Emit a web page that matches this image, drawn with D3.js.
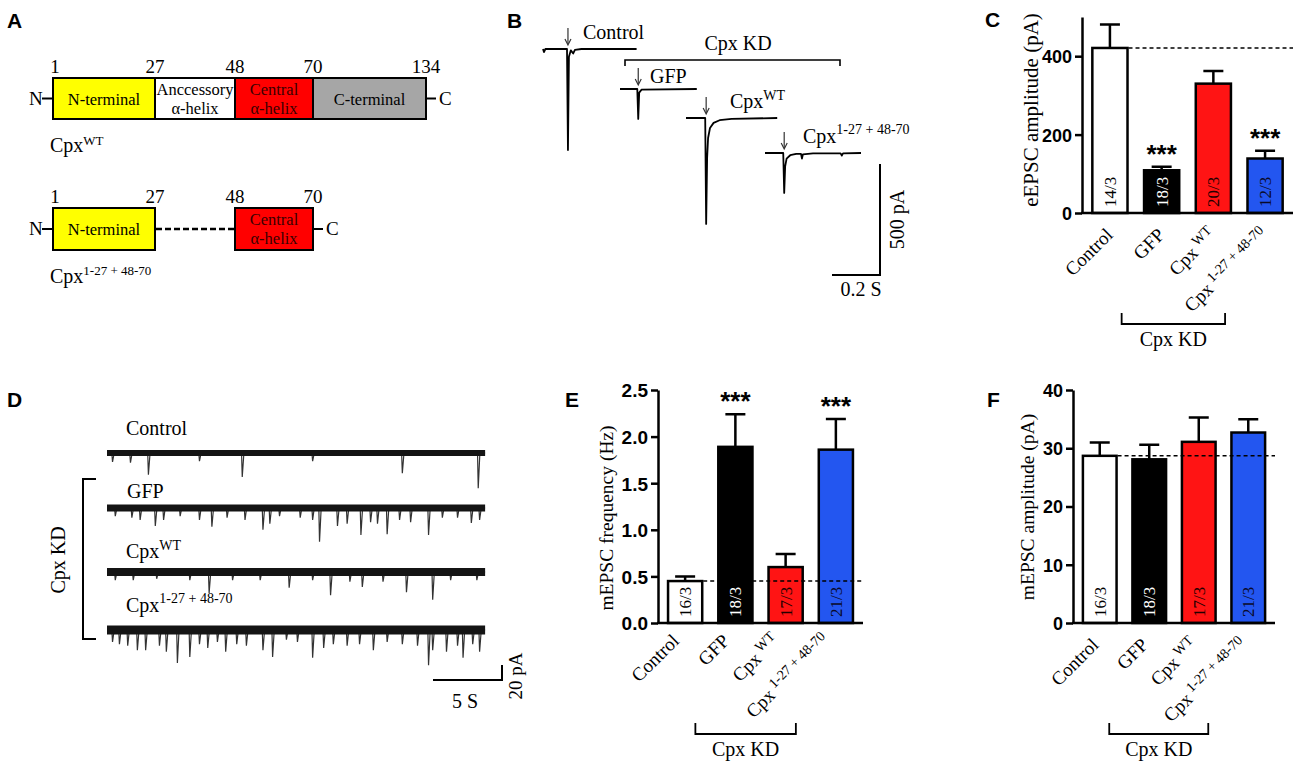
<!DOCTYPE html>
<html>
<head>
<meta charset="utf-8">
<script src="https://cdn.jsdelivr.net/npm/d3@7"></script>
<style>
  body { margin: 0; background: #fff; }
  svg { display: block; }
</style>
</head>
<body>
<div id="fig"></div>
<script>
var SERIF = '"Liberation Serif", "Times New Roman", serif';
var SANS = '"Liberation Sans", Arial, sans-serif';

// ---- bar chart groups (C, E, F)
var groups = ['Control', 'GFP', 'CpxWT', 'Cpx1-27+48-70'];
var groupMain = ['Control', 'GFP', 'Cpx', 'Cpx'];
var groupSup = ['', '', 'WT', '1-27 + 48-70'];
var barFill = ['#ffffff', '#000000', '#ff1414', '#2356f0'];
var countInk = ['#000000', '#ffffff', '#220000', '#0a0a2a'];

// C: eEPSC amplitude (pA)
var eAmpMean = [421, 109, 330, 139];
var eAmpSem = [60, 9, 32, 20];
var eAmpN = ['14/3', '18/3', '20/3', '12/3'];
var eAmpSig = ['', '***', '', '***'];
var eAmpTicks = [0, 200, 400];

// E: mEPSC frequency (Hz)
var mFreqMean = [0.45, 1.89, 0.60, 1.86];
var mFreqSem = [0.05, 0.35, 0.14, 0.33];
var mFreqN = ['16/3', '18/3', '17/3', '21/3'];
var mFreqSig = ['', '***', '', '***'];
var mFreqTicks = [0, 0.5, 1, 1.5, 2, 2.5];

// F: mEPSC amplitude (pA)
var mAmpMean = [28.7, 28.1, 31.1, 32.7];
var mAmpSem = [2.3, 2.5, 4.2, 2.3];
var mAmpN = ['16/3', '18/3', '17/3', '21/3'];
var mAmpSig = ['', '', '', ''];
var mAmpTicks = [0, 10, 20, 30, 40];

// ---- A: complexin domains
var domainLines = [['N-terminal'], ['Anccessory', 'α-helix'], ['Central', 'α-helix'], ['C-terminal']];
var domainEdges = [1, 27, 48, 70, 134];
var domainFill = ['#ffff00', '#ffffff', '#ff0000', '#a6a6a6'];
var domainInk = ['#000000', '#000000', '#3a0000', '#000000'];
var mutantKept = [0, 2];

// ---- B: evoked traces, [time s, current pA]
var evControl = [[0, 0], [0.004, -14], [0.010, 0], [0.100, 0], [0.104, -455], [0.108, -35], [0.116, -6], [0.126, -20], [0.133, -4], [0.16, 0], [0.39, 0]];
var evGFP = [[0, 0], [0.072, 0], [0.076, -135], [0.080, -16], [0.090, -3], [0.32, 0]];
var evWT = [[0, 0], [0.080, 0], [0.084, -477], [0.088, -180], [0.092, -90], [0.100, -45], [0.115, -22], [0.140, -10], [0.190, -4], [0.38, 0]];
var evMut = [[0, 0], [0.076, 0], [0.080, -180], [0.084, -60], [0.090, -25], [0.105, -10], [0.130, -4], [0.150, -4], [0.154, -25], [0.158, -6], [0.20, -2], [0.315, -2], [0.320, -12], [0.325, -2], [0.40, 0]];

// ---- D: mEPSC events, [time s, amplitude pA]
var traceDur = 27.4;
var mControl = [[0.4, 12], [1.7, 13], [3.0, 29], [6.7, 11], [9.8, 32], [14.9, 11], [21.4, 27], [26.9, 47]];
var mGFP = [[0.6, 11], [1.8, 13], [2.4, 16], [3.5, 24], [4.1, 16], [5.3, 11], [6.7, 16], [7.6, 25], [8.7, 13], [10.0, 16], [11.3, 29], [11.8, 21], [12.5, 11], [14.0, 13], [14.9, 16], [15.4, 45], [16.7, 24], [17.4, 21], [18.4, 36], [19.1, 19], [19.6, 21], [20.3, 35], [21.2, 16], [22.0, 19], [23.3, 36], [24.3, 13], [25.4, 13], [26.4, 20], [27.0, 16]];
var mWT = [[0.6, 11], [1.9, 11], [3.6, 9], [6.0, 11], [7.4, 28], [9.1, 11], [11.1, 11], [13.2, 21], [14.9, 11], [16.2, 31], [17.6, 13], [18.5, 20], [20.0, 13], [21.7, 27], [23.6, 37], [24.9, 11], [26.8, 11]];
var mMut = [[0.4, 16], [0.9, 19], [1.5, 21], [2.2, 27], [2.8, 27], [3.8, 21], [4.3, 29], [5.1, 44], [6.0, 36], [6.7, 19], [7.3, 24], [8.0, 16], [8.6, 29], [9.4, 19], [10.1, 21], [11.3, 27], [12.0, 36], [13.0, 13], [13.8, 16], [14.9, 37], [15.7, 24], [16.4, 19], [17.4, 21], [18.3, 19], [19.3, 27], [20.3, 16], [21.4, 19], [22.5, 21], [23.3, 47], [23.6, 27], [24.6, 29], [25.4, 21], [25.8, 37], [26.5, 19], [27.0, 29]];

var svg = d3.select('#fig').append('svg')
    .attr('width', 1300)
    .attr('height', 771)
    .attr('viewBox', '0 0 1300 771');

function txt(g, x, y, s, size, opts) {
    opts = opts || {};
    return g.append('text')
        .attr('x', x).attr('y', y)
        .attr('font-family', opts.family || SERIF)
        .attr('font-size', size)
        .attr('font-weight', opts.weight || 'normal')
        .attr('text-anchor', opts.anchor || 'start')
        .attr('fill', opts.fill || '#000')
        .text(s);
}

function supLabel(g, x, y, main, sup, size, supSize, rise) {
    var t = g.append('text').attr('x', x).attr('y', y)
        .attr('font-family', SERIF).attr('font-size', size).attr('fill', '#000');
    t.append('tspan').text(main);
    t.append('tspan').attr('font-size', supSize).attr('dy', -rise).text(sup);
    return t;
}

function line(g, x1, y1, x2, y2, w, dash) {
    var l = g.append('line')
        .attr('x1', x1).attr('y1', y1).attr('x2', x2).attr('y2', y2)
        .attr('stroke', '#000').attr('stroke-width', w || 2);
    if (dash) l.attr('stroke-dasharray', dash);
    return l;
}

// panel letters
[['A', 7, 28], ['B', 507, 28], ['C', 985, 27], ['D', 7, 407], ['E', 565, 407], ['F', 987, 407]].forEach(function (p) {
    txt(svg, p[1], p[2], p[0], 21, { family: SANS, weight: 'bold' });
});

// ================= A
(function () {
    var g = svg.append('g');
    var xr = d3.scaleLinear().domain(domainEdges).range([53, 155, 235, 313, 426]);

    function row(top, h, kept, numY) {
        var mid = top + h / 2;
        var idx = kept || d3.range(domainLines.length);
        g.selectAll(null).data(idx).enter().append('rect')
            .attr('x', function (i) { return xr(domainEdges[i]); })
            .attr('y', top)
            .attr('width', function (i) { return xr(domainEdges[i + 1]) - xr(domainEdges[i]); })
            .attr('height', h)
            .attr('fill', function (i) { return domainFill[i]; })
            .attr('stroke', '#000').attr('stroke-width', 2);
        idx.forEach(function (i) {
            var cx = (xr(domainEdges[i]) + xr(domainEdges[i + 1])) / 2;
            var ls = domainLines[i];
            ls.forEach(function (s, k) {
                var yy = ls.length === 1 ? mid + 6 : mid - 4 + k * 19;
                txt(g, cx, yy, s, 16.5, { anchor: 'middle', fill: domainInk[i] });
            });
        });
        var edges = kept ? [1, 27, 48, 70] : domainEdges;
        edges.forEach(function (e) {
            txt(g, xr(e) + (e === 1 ? 2 : 0), numY, String(e), 19, { anchor: 'middle' });
        });
        var right = kept ? xr(70) : xr(134);
        txt(g, 29, mid + 6, 'N', 19);
        line(g, 42, mid, xr(1), mid, 2);
        line(g, right, mid, right + 10, mid, 2);
        txt(g, right + 13, mid + 6, 'C', 19);
        if (kept) line(g, xr(27) + 1, mid, xr(48) - 1, mid, 2.5, '6,3');
    }

    row(78, 41, null, 73);
    supLabel(g, 50, 152, 'Cpx', 'WT', 20, 13, 7);
    row(208, 42, mutantKept, 203);
    supLabel(g, 50, 283, 'Cpx', '1-27 + 48-70', 20, 13, 8);
})();

// ================= B
(function () {
    var g = svg.append('g');
    var tx = d3.scaleLinear().domain([0, 0.2]).range([0, 48]);
    var ty = d3.scaleLinear().domain([0, -500]).range([0, 111]);
    var path = d3.line().x(function (d) { return tx(d[0]); }).y(function (d) { return ty(d[1]); });

    function trace(data, ox, oy, arrowT) {
        var tg = g.append('g').attr('transform', 'translate(' + ox + ',' + oy + ')');
        tg.append('path').attr('d', path(data)).attr('fill', 'none')
            .attr('stroke', '#000').attr('stroke-width', 1.8).attr('stroke-linejoin', 'round');
        var ax = tx(arrowT);
        tg.append('line').attr('x1', ax).attr('x2', ax).attr('y1', -21).attr('y2', -5)
            .attr('stroke', '#333').attr('stroke-width', 1.2);
        tg.append('path').attr('d', 'M' + (ax - 3) + ',-10L' + ax + ',-4L' + (ax + 3) + ',-10')
            .attr('fill', 'none').attr('stroke', '#333').attr('stroke-width', 1.2);
    }

    trace(evControl, 543, 49, evControl[4][0]);
    trace(evGFP, 620, 89, evGFP[2][0]);
    trace(evWT, 686, 118, evWT[2][0]);
    trace(evMut, 765, 153, evMut[2][0]);

    txt(g, 583, 39, 'Control', 20);
    txt(g, 650, 83, 'GFP', 20);
    supLabel(g, 730, 108, 'Cpx', 'WT', 20, 14, 8);
    supLabel(g, 803, 143, 'Cpx', '1-27 + 48-70', 20, 14, 9);

    // Cpx KD bracket
    txt(g, 738, 50, 'Cpx KD', 20, { anchor: 'middle' });
    g.append('path').attr('d', 'M625,66V60H840V66').attr('fill', 'none')
        .attr('stroke', '#000').attr('stroke-width', 1.6);

    // scale bar
    var sx = 880, sy = 275;
    g.append('path').attr('d', 'M' + (sx - tx(0.2)) + ',' + sy + 'H' + sx + 'V' + (sy - ty(-500)))
        .attr('fill', 'none').attr('stroke', '#000').attr('stroke-width', 2);
    txt(g, sx - tx(0.2) / 2 + 5, 296, '0.2 S', 20, { anchor: 'middle' });
    txt(g, 0, 0, '500 pA', 20, { anchor: 'middle' })
        .attr('transform', 'translate(904,' + (sy - ty(-500) / 2) + ') rotate(-90)');
})();

// ================= D
(function () {
    var g = svg.append('g');
    var tx = d3.scaleLinear().domain([0, 5]).range([0, 69]);
    var ty = d3.scaleLinear().domain([0, -20]).range([0, 15]);
    var path = d3.line().x(function (d) { return tx(d[0]); }).y(function (d) { return ty(d[1]); });

    function trace(events, oy, band) {
        var tg = g.append('g').attr('transform', 'translate(107,' + oy + ')');
        var pts = [[0, 0]];
        events.forEach(function (e) {
            pts.push([e[0] - 0.05, 0], [e[0], -e[1]], [e[0] + 0.12, 0]);
        });
        pts.push([traceDur, 0]);
        tg.append('path').attr('d', path(pts)).attr('fill', 'none')
            .attr('stroke', '#333').attr('stroke-width', 1.2);
        tg.append('line').attr('x1', 0).attr('x2', tx(traceDur)).attr('y1', 0).attr('y2', 0)
            .attr('stroke', '#141414').attr('stroke-width', band);
    }

    trace(mControl, 453, 6);
    trace(mGFP, 508, 7);
    trace(mWT, 572, 8);
    trace(mMut, 630, 9);

    txt(g, 126, 435, 'Control', 20);
    txt(g, 127, 498, 'GFP', 20);
    supLabel(g, 126, 558, 'Cpx', 'WT', 20, 14, 8);
    supLabel(g, 126, 612, 'Cpx', '1-27 + 48-70', 20, 14, 9);

    g.append('path').attr('d', 'M96,479H83V639H96').attr('fill', 'none')
        .attr('stroke', '#000').attr('stroke-width', 2);
    txt(g, 0, 0, 'Cpx KD', 20, { anchor: 'middle' }).attr('transform', 'translate(65,560) rotate(-90)');

    var sx = 502, sy = 680;
    g.append('path').attr('d', 'M' + (sx - tx(5)) + ',' + sy + 'H' + sx + 'V' + (sy - ty(-20)))
        .attr('fill', 'none').attr('stroke', '#000').attr('stroke-width', 2);
    txt(g, 465, 708, '5 S', 20, { anchor: 'middle' });
    txt(g, 0, 0, '20 pA', 19, { anchor: 'middle' }).attr('transform', 'translate(522,676) rotate(-90)');
})();

// ================= C, E, F
function barPanel(cfg) {
    var g = svg.append('g');
    var x = d3.scaleBand().domain(groups).range([cfg.x0, cfg.x1]).paddingInner(0.32).paddingOuter(0.2);
    var y = d3.scaleLinear().domain([0, cfg.max]).range([cfg.y0, cfg.yTop]);
    var bw = x.bandwidth();
    var rows = groups.map(function (k, i) {
        return { key: k, i: i, mean: cfg.mean[i], sem: cfg.sem[i], n: cfg.n[i], sig: cfg.sig[i] };
    });

    // error bars (upper only)
    g.selectAll('.err').data(rows).enter().append('path')
        .attr('d', function (d) {
            var cx = x(d.key) + bw / 2, top = y(d.mean + d.sem);
            return 'M' + cx + ',' + y(d.mean) + 'V' + top + 'M' + (cx - 10) + ',' + top + 'H' + (cx + 10);
        })
        .attr('fill', 'none').attr('stroke', '#000').attr('stroke-width', 2.5);

    g.selectAll('.bar').data(rows).enter().append('rect')
        .attr('x', function (d) { return x(d.key); })
        .attr('y', function (d) { return y(d.mean); })
        .attr('width', bw)
        .attr('height', function (d) { return y(0) - y(d.mean); })
        .attr('fill', function (d) { return barFill[d.i]; })
        .attr('stroke', '#000').attr('stroke-width', 2.5);

    // control reference line
    line(g, x(groups[0]) + bw + 1, y(cfg.mean[0]), cfg.x1, y(cfg.mean[0]), 1.6, '4,3');

    // n / cultures inside bars, significance stars above
    rows.forEach(function (d) {
        txt(g, 0, 0, d.n, 17, { fill: countInk[d.i] })
            .attr('transform', 'translate(' + (x(d.key) + bw / 2 + 6) + ',' + (cfg.y0 - 6) + ') rotate(-90)');
        if (d.sig) txt(g, x(d.key) + bw / 2, y(d.mean + d.sem) - 4, d.sig, 26, { family: SANS, weight: 'bold', anchor: 'middle' });
    });

    // axes
    var yAxis = d3.axisLeft(y).tickValues(cfg.ticks).tickSize(7).tickSizeOuter(0).tickPadding(3).tickFormat(cfg.fmt);
    var ga = g.append('g').attr('transform', 'translate(' + cfg.x0 + ',0)').call(yAxis);
    ga.select('.domain').attr('stroke-width', 2.5);
    ga.selectAll('.tick line').attr('stroke-width', 2.5);
    ga.selectAll('.tick text').attr('font-family', SANS).attr('font-weight', 'bold')
        .attr('font-size', cfg.tickFont).attr('fill', '#000').attr('dy', '0.36em');
    line(g, cfg.x0 - 1, cfg.y0, cfg.x1, cfg.y0, 2.5);

    txt(g, 0, 0, cfg.title, cfg.titleFont, { anchor: 'middle' })
        .attr('transform', 'translate(' + cfg.titleX + ',' + cfg.titleY + ') rotate(-90)');

    // rotated group labels
    rows.forEach(function (d) {
        var t = g.append('text')
            .attr('transform', 'translate(' + (x(d.key) + bw / 2 + cfg.labDx) + ',' + (cfg.y0 + cfg.labDy) + ') rotate(-45)')
            .attr('text-anchor', 'end').attr('font-family', SERIF).attr('font-size', 19).attr('fill', '#000');
        t.append('tspan').text(groupMain[d.i]);
        if (groupSup[d.i]) t.append('tspan').attr('font-size', 14).attr('dy', -7).attr('dx', 4).text(groupSup[d.i]);
    });

    // Cpx KD bracket
    var bx0 = x(groups[1]) + bw / 2 - 40, bx1 = x(groups[3]) + bw / 2 - 40;
    var by = cfg.y0 + 111;
    g.append('path').attr('d', 'M' + bx0 + ',' + (by - 11) + 'V' + by + 'H' + bx1 + 'V' + (by - 11))
        .attr('fill', 'none').attr('stroke', '#000').attr('stroke-width', 1.8);
    txt(g, (bx0 + bx1) / 2, by + 22, 'Cpx KD', 20, { anchor: 'middle' });
}

barPanel({
    x0: 1082, x1: 1293, y0: 213, yTop: 17, max: 500,
    mean: eAmpMean, sem: eAmpSem, n: eAmpN, sig: eAmpSig, ticks: eAmpTicks,
    fmt: d3.format('d'), tickFont: 18,
    title: 'eEPSC amplitude (pA)', titleFont: 21, titleX: 1038, titleY: 110,
    labDx: 4, labDy: 23
});

barPanel({
    x0: 658, x1: 863, y0: 623, yTop: 390, max: 2.5,
    mean: mFreqMean, sem: mFreqSem, n: mFreqN, sig: mFreqSig, ticks: mFreqTicks,
    fmt: d3.format('.1f'), tickFont: 19,
    title: 'mEPSC frequency (Hz)', titleFont: 19.5, titleX: 613, titleY: 518,
    labDx: -5, labDy: 19
});

barPanel({
    x0: 1073, x1: 1275, y0: 623, yTop: 390, max: 40,
    mean: mAmpMean, sem: mAmpSem, n: mAmpN, sig: mAmpSig, ticks: mAmpTicks,
    fmt: d3.format('d'), tickFont: 18,
    title: 'mEPSC amplitude (pA)', titleFont: 19.5, titleX: 1034, titleY: 507,
    labDx: 0, labDy: 23
});
</script>
</body>
</html>
